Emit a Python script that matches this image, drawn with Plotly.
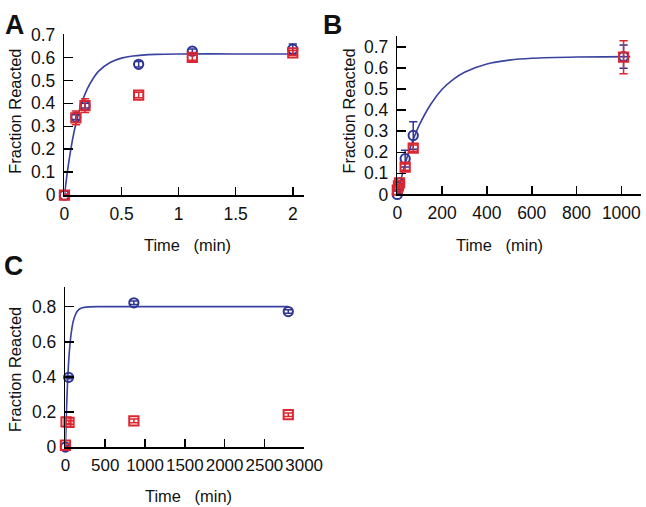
import plotly.graph_objects as go

# ---------------- data ----------------
# Panel A
a_blue_t = [0, 0.1, 0.18, 0.65, 1.12, 2.0]
a_blue_y = [0, 0.34, 0.39, 0.57, 0.627, 0.636]
a_blue_e = [0.004, 0.01, 0.01, 0.012, 0.01, 0.022]
a_red_t = [0, 0.1, 0.18, 0.65, 1.12, 2.0]
a_red_y = [0, 0.337, 0.39, 0.436, 0.60, 0.62]
a_red_e = [0.004, 0.03, 0.03, 0.012, 0.012, 0.01]
a_fit_t = [0, 0.025, 0.05, 0.075, 0.1, 0.15, 0.2, 0.25, 0.3, 0.4, 0.5, 0.6, 0.8, 1.0, 1.5, 2.0]
a_fit_y = [0, 0.098, 0.182, 0.253, 0.31, 0.40, 0.463, 0.507, 0.54, 0.578, 0.597, 0.606, 0.613, 0.615, 0.615, 0.615]

# Panel B
b_blue_t = [0, 5, 10, 35, 71, 1010]
b_blue_y = [0, 0.035, 0.055, 0.17, 0.28, 0.655]
b_blue_e = [0.005, 0.01, 0.01, 0.04, 0.065, 0.055]
b_red_t = [0, 5, 10, 35, 71, 1010]
b_red_y = [0.02, 0.04, 0.055, 0.13, 0.22, 0.652]
b_red_e = [0.01, 0.01, 0.01, 0.015, 0.015, 0.078]
b_fit_t = [0, 25, 50, 75, 100, 150, 200, 250, 300, 400, 500, 600, 800, 1040]
b_fit_y = [0, 0.107, 0.198, 0.272, 0.334, 0.43, 0.50, 0.547, 0.581, 0.620, 0.638, 0.647, 0.653, 0.655]

# Panel C
c_blue_t = [0, 40, 860, 2800]
c_blue_y = [0, 0.397, 0.822, 0.772]
c_blue_e = [0.008, 0.008, 0.01, 0.01]
c_red_t = [0, 8, 45, 860, 2800]
c_red_y = [0.01, 0.143, 0.14, 0.149, 0.184]
c_red_e = [0.008, 0.01, 0.01, 0.01, 0.01]
c_fit_t = [0, 10, 20, 30, 50, 75, 100, 150, 200, 300, 500, 2800]
c_fit_y = [0, 0.165, 0.295, 0.40, 0.548, 0.657, 0.720, 0.775, 0.792, 0.799, 0.80, 0.80]

# tick labels
a_xticks = [0, 0.5, 1, 1.5, 2]
a_xtext = ["0", "0.5", "1", "1.5", "2"]
ab_yticks = [0, 0.1, 0.2, 0.3, 0.4, 0.5, 0.6, 0.7]
ab_ytext = ["0", "0.1", "0.2", "0.3", "0.4", "0.5", "0.6", "0.7"]
b_xticks = [0, 200, 400, 600, 800, 1000]
b_xtext = ["0", "200", "400", "600", "800", "1000"]
c_xticks = [0, 500, 1000, 1500, 2000, 2500, 3000]
c_xtext = ["0", "500", "1000", "1500", "2000", "2500", "3000"]
c_yticks = [0, 0.2, 0.4, 0.6, 0.8]
c_ytext = ["0", "0.2", "0.4", "0.6", "0.8"]

# ---------------- styling ----------------
W, H = 646, 507          # reference picture size: domains / annotations are placed as fractions of it
FIG_W, FIG_H = 664, 516  # size of the plot div so that it fills the captured area
K = FIG_W / W            # size factor for fonts and marks
BLUE = "#2e3592"
LINE_BLUE = "#3a43a0"
RED = "#dc2630"
FONT = "Liberation Sans, Arial, sans-serif"

fig = go.Figure()


def add_panel(n, fit_t, fit_y, bt, by, be, rt, ry, re):
    xa = "x" if n == 1 else f"x{n}"
    ya = "y" if n == 1 else f"y{n}"
    fig.add_trace(go.Scatter(x=fit_t, y=fit_y, mode="lines",
                             line=dict(color=LINE_BLUE, width=1.6 * K, shape="spline", smoothing=0.8),
                             xaxis=xa, yaxis=ya, showlegend=False, cliponaxis=False, hoverinfo="skip"))
    fig.add_trace(go.Scatter(x=bt, y=by, mode="markers",
                             marker=dict(symbol="circle-open", size=9 * K, color=BLUE, line=dict(width=2, color=BLUE)),
                             error_y=dict(type="data", array=be, visible=True, color=BLUE, thickness=1.5, width=4 * K),
                             xaxis=xa, yaxis=ya, showlegend=False, cliponaxis=False, hoverinfo="skip"))
    fig.add_trace(go.Scatter(x=rt, y=ry, mode="markers",
                             marker=dict(symbol="square-open", size=9 * K, color=RED, line=dict(width=2, color=RED)),
                             error_y=dict(type="data", array=re, visible=True, color=RED, thickness=1.5, width=4 * K),
                             xaxis=xa, yaxis=ya, showlegend=False, cliponaxis=False, hoverinfo="skip"))


add_panel(1, a_fit_t, a_fit_y, a_blue_t, a_blue_y, a_blue_e, a_red_t, a_red_y, a_red_e)
add_panel(2, b_fit_t, b_fit_y, b_blue_t, b_blue_y, b_blue_e, b_red_t, b_red_y, b_red_e)
add_panel(3, c_fit_t, c_fit_y, c_blue_t, c_blue_y, c_blue_e, c_red_t, c_red_y, c_red_e)


def px_x(p0, p1):
    return [p0 / W, p1 / W]


def px_y(top, bottom):
    return [1 - bottom / H, 1 - top / H]


def axis(domain, rng, tickvals, ticktext, anchor, size):
    return dict(domain=domain, range=rng, tickvals=tickvals, ticktext=ticktext, anchor=anchor,
                showline=True, linecolor="black", linewidth=1.6, ticks="inside", ticklen=8 * K, tickwidth=1.6,
                tickcolor="black", showgrid=False, zeroline=False, tickangle=0,
                tickfont=dict(family=FONT, size=size * K, color="#111"), fixedrange=True)


xa1 = axis(px_x(60, 302), [0, 2.1], a_xticks, a_xtext, "y", 17)
ya1 = axis(px_y(25, 189.3), [0, 0.7], ab_yticks, ab_ytext, "x", 17)
xa2 = axis(px_x(396, 642), [0, 1088], b_xticks, b_xtext, "y2", 17)
ya2 = axis(px_y(27, 188.5), [0, 0.751], ab_yticks, ab_ytext, "x2", 17)
xa3 = axis(px_x(61, 302), [0, 3000], c_xticks, c_xtext, "y3", 16.5)
ya3 = axis(px_y(283, 446.7), [0, 0.913], c_yticks, c_ytext, "x3", 17)
for xa in (xa1, xa2, xa3):
    xa["ticklabelstandoff"] = 2
for ya in (ya1, ya2, ya3):
    ya["ticklabelstandoff"] = 4

annotations = []


def ann(text, x, y, size, bold=False, angle=0):
    annotations.append(dict(text=f"<b>{text}</b>" if bold else text, x=x / W, y=1 - y / H, xref="paper", yref="paper",
                            showarrow=False, textangle=angle, xanchor="center", yanchor="middle",
                            font=dict(family=FONT, size=size * K, color="#111")))


NB = "\u00a0"
xlabel = f"Time{NB}{NB}{NB}(min)"
ann("Fraction Reacted", 10, 103, 16, angle=-90)
ann("Fraction Reacted", 347, 103, 16, angle=-90)
ann("Fraction Reacted", 10, 367, 16, angle=-90)
ann(xlabel, 184, 240, 16)
ann(xlabel, 499, 240, 16)
ann(xlabel, 185, 497, 16)
ann("A", 10, 15, 26, bold=True)
ann("B", 331, 15, 26, bold=True)
ann("C", 9, 262, 26, bold=True)

fig.update_layout(autosize=True, margin=dict(l=0, r=0, t=0, b=0), plot_bgcolor="white", paper_bgcolor="white",
                  xaxis=xa1, yaxis=ya1, xaxis2=xa2, yaxis2=ya2, xaxis3=xa3, yaxis3=ya3, annotations=annotations,
                  showlegend=False, hovermode=False)

# the plot div is pinned to the top-left corner of the page
fig.write_html("out.html", config={"displayModeBar": False, "staticPlot": True},
               default_width=f"{FIG_W}px",
               default_height=f"{FIG_H}px; position:fixed; left:0; top:0; margin:0",
               post_script="document.body.style.margin='0';document.body.style.overflow='hidden';")
